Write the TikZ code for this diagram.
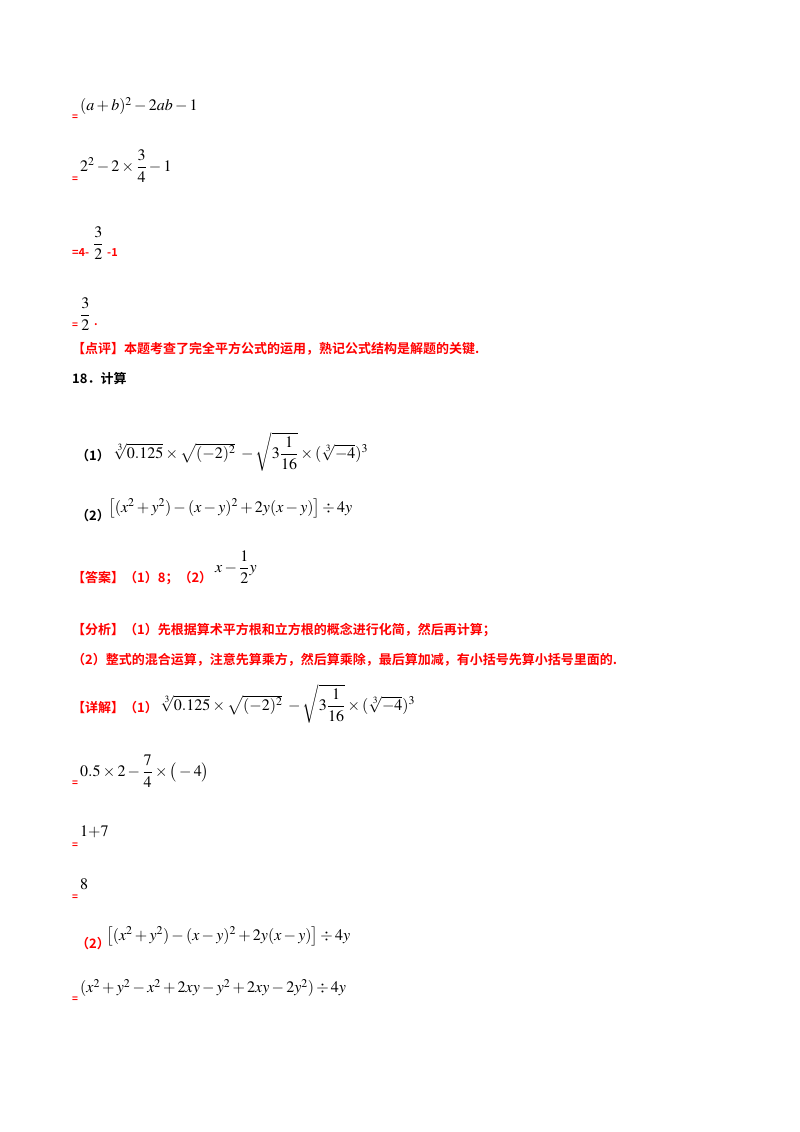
\documentclass[tikz,border=0pt]{standalone}
\usepackage{amsmath}
\usepackage[no-math]{fontspec}
\usepackage{mathptmx}
\newfontfamily\cjk{Noto Sans CJK SC}[BoldFont={* Bold}]
\definecolor{hred}{RGB}{255,0,0}
\tikzset{
 eq/.style={anchor=west,inner sep=0pt,text=hred,font=\cjk\bfseries\fontsize{10}{10}\selectfont},
 cn/.style={anchor=west,inner sep=0pt,font=\cjk\bfseries\fontsize{13}{13}\selectfont},
 rc/.style={cn,text=hred},
 mth/.style={anchor=west,inner sep=0pt,font=\fontsize{16}{19}\selectfont}
}
\begin{document}
\begin{tikzpicture}[x=1pt,y=-1pt]
\useasboundingbox[fill=white] (0,0) rectangle (800,1132);
\node[eq] (e1) at (72,118) {=};
\node[mth] (m1) at (80,106) {$(a+b)^2-2ab-1$};
\node[eq] (e2) at (72,180) {=};
\node[mth] (m2) at (80,166) {$2^2-2\times\dfrac34-1$};
\node[rc,font=\cjk\bfseries\fontsize{11}{11}\selectfont] (e3) at (72,253) {=4-};
\node[mth] (m3) at (93,243) {$\dfrac32$};
\node[rc,font=\cjk\bfseries\fontsize{11}{11}\selectfont] (e3b) at (107,253) {-1};
\node[eq] (e4) at (72,326) {=};
\node[mth] (m4) at (80,314) {$\dfrac32$};
\node[rc,font=\cjk\bfseries\fontsize{11}{11}\selectfont] (e4b) at (94,325) {.};
\node[rc] (dp) at (72,349) {【点评】本题考查了完全平方公式的运用，熟记公式结构是解题的关键.};
\node[cn] (q18) at (72,379) {18．计算};
\node[cn] (l1) at (76,456) {（1）};
\node[mth] (q1) at (113,452) {$\sqrt[3]{0.125}\times\sqrt{(-2)^2}\;-\sqrt{3\dfrac{1}{16}}\times(\sqrt[3]{-4})^3$};
\node[cn] (l2) at (76,516) {（2）};
\node[mth] (q2) at (108,508) {$\big[(x^2+y^2)-(x-y)^2+2y(x-y)\big]\div4y$};
\node[rc] (da) at (72,578) {【答案】（1）8；（2）};
\node[mth] (dm) at (215,567) {$x-\dfrac12y$};
\node[rc] (fx1) at (72,630) {【分析】（1）先根据算术平方根和立方根的概念进行化简，然后再计算；};
\node[rc] (fx2) at (72,660) {（2）整式的混合运算，注意先算乘方，然后算乘除，最后算加减，有小括号先算小括号里面的.};
\node[rc] (xj) at (72,708) {【详解】（1）};
\node[mth] (xjm) at (160,704) {$\sqrt[3]{0.125}\times\sqrt{(-2)^2}\;-\sqrt{3\dfrac{1}{16}}\times(\sqrt[3]{-4})^3$};
\node[eq] (e5) at (72,784) {=};
\node[mth] (m5) at (80,771) {$0.5\times2-\dfrac74\times\big(-4\big)$};
\node[eq] (e6) at (72,846) {=};
\node[mth] (m6) at (80,832) {$1{+}7$};
\node[eq] (e7) at (72,898) {=};
\node[mth] (m7) at (80,884) {$8$};
\node[rc] (l3) at (76,944) {（2）};
\node[mth] (q3) at (106,936) {$\big[(x^2+y^2)-(x-y)^2+2y(x-y)\big]\div4y$};
\node[eq] (e8) at (72,1000) {=};
\node[mth] (m8) at (80,988) {$(x^2+y^2-x^2+2xy-y^2+2xy-2y^2)\div4y$};
\end{tikzpicture}
\end{document}
